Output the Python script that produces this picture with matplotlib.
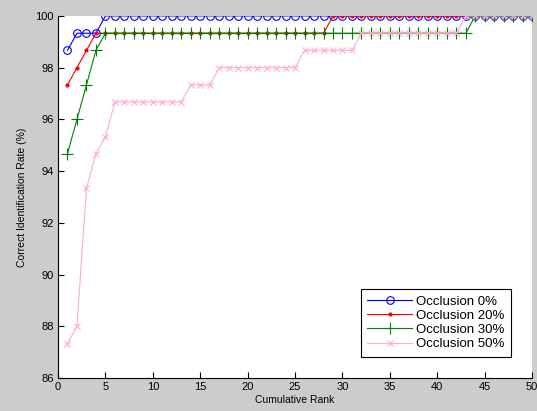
import numpy as np
import matplotlib.pyplot as plt

plt.rcParams['font.family'] = ['Liberation Sans', 'DejaVu Sans']

# -----------------------------
# Data
# -----------------------------
ranks = np.arange(1, 51)

occ_0 = [98.67] + [99.33] * 3 + [100.0] * 46
occ_20 = [97.33, 98.0, 98.67] + [99.33] * 25 + [100.0] * 22
occ_30 = [94.67, 96.0, 97.33, 98.67] + [99.33] * 39 + [100.0] * 7
occ_50 = ([87.33, 88.0, 93.33, 94.67, 95.33] + [96.67] * 8 + [97.33] * 3
          + [98.0] * 9 + [98.67] * 6 + [99.33] * 11 + [100.0] * 8)

labels = ['Occlusion 0%', 'Occlusion 20%', 'Occlusion 30%', 'Occlusion 50%']

# -----------------------------
# Plot
# -----------------------------
fig = plt.figure(figsize=(5.37, 4.11), dpi=100, facecolor='#cccccc')
ax = fig.add_axes([0.108, 0.0803, 0.883, 0.881])

ax.plot(ranks, occ_0, color='#0000ff', marker='o', markersize=5.5,
        markerfacecolor='none', markeredgewidth=0.8, linewidth=0.8, label=labels[0])
ax.plot(ranks, occ_20, color='#ff0000', marker='.', markersize=4,
        linewidth=0.8, label=labels[1])
ax.plot(ranks, occ_30, color='#008000', marker='+', markersize=8,
        markeredgewidth=0.8, linewidth=0.8, label=labels[2])
ax.plot(ranks, occ_50, color='#ffaad4', marker='x', markersize=4,
        markeredgewidth=0.8, linewidth=0.8, label=labels[3])

ax.set_xlim(0, 50)
ax.set_ylim(86, 100)
ax.set_xticks(range(0, 51, 5))
ax.set_yticks(range(86, 101, 2))

for side in ['top', 'right']:
    ax.spines[side].set_visible(False)
for side in ['left', 'bottom']:
    ax.spines[side].set_linewidth(0.8)

ax.tick_params(direction='in', length=4, width=0.8, labelsize=8, pad=3)
ax.set_xlabel('Cumulative Rank', fontsize=7.5, labelpad=2)
ax.set_ylabel('Correct Identification Rate (%)', fontsize=7.5, labelpad=6)

leg = ax.legend(loc='lower right', fontsize=9.5, fancybox=False, framealpha=1,
                edgecolor='black', borderaxespad=1.6, handlelength=3.4,
                handletextpad=0.3, labelspacing=0.15, borderpad=0.5)
leg.get_frame().set_linewidth(0.8)

fig.savefig('out.png', dpi=100, facecolor=fig.get_facecolor())
